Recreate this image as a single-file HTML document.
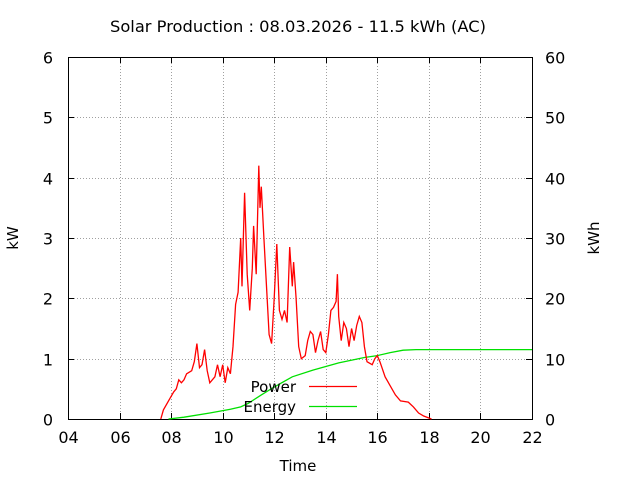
<!DOCTYPE html>
<html><head><meta charset="utf-8"><style>
html,body{margin:0;padding:0;background:#fff}
svg{display:block;font-family:"DejaVu Sans","Liberation Sans",sans-serif}
</style></head><body>
<svg id="s" width="640" height="480" xmlns="http://www.w3.org/2000/svg">
<rect width="640" height="480" fill="#fff"/>
<g id="grid" stroke="#a0a0a0" stroke-width="1" stroke-dasharray="1,2"></g>
<rect x="68.5" y="57.5" width="464" height="362" fill="none" stroke="#000"/>
<g id="ticks" stroke="#000"></g>
<g id="labels" font-size="16" fill="#000"></g>
<text x="298" y="32" font-size="16.3" text-anchor="middle">Solar Production : 08.03.2026 - 11.5 kWh (AC)</text>
<text x="298" y="471" font-size="15" text-anchor="middle">Time</text>
<text transform="translate(18,238) rotate(-90)" font-size="15" text-anchor="middle">kW</text>
<text transform="translate(599,238) rotate(-90)" font-size="15" text-anchor="middle">kWh</text>
<polyline id="en" fill="none" stroke="#00e000" stroke-width="1.3"/>
<polyline id="pw" fill="none" stroke="#ff0000" stroke-width="1.3"/>
<text x="296" y="392" font-size="15" text-anchor="end">Power</text>
<line x1="309" y1="386.5" x2="357" y2="386.5" stroke="#ff0000" stroke-width="1.3"/>
<text x="296" y="412" font-size="15" text-anchor="end">Energy</text>
<line x1="309" y1="406.5" x2="357" y2="406.5" stroke="#00e000" stroke-width="1.3"/>
</svg>
<script>
var NS="http://www.w3.org/2000/svg";
function X(t){return 68+(t-4)*464/18}
function Y(p){return 419-p*362/6}
function el(n,a,p,txt){var e=document.createElementNS(NS,n);for(var k in a)e.setAttribute(k,a[k]);if(txt!==undefined)e.textContent=txt;document.getElementById(p).appendChild(e);}
for(var h=4;h<=22;h+=2){var x=Math.round(X(h))+0.5;
 if(h>4&&h<22)el('line',{x1:x,y1:57,x2:x,y2:419},'grid');
 el('line',{x1:x,y1:419,x2:x,y2:413},'ticks');el('line',{x1:x,y1:57,x2:x,y2:63},'ticks');
 el('text',{x:x,y:443,'text-anchor':'middle'},'labels',(h<10?'0':'')+h);}
for(var v=0;v<=6;v++){var y=Math.round(Y(v))+0.5;
 if(v>0&&v<6)el('line',{x1:68,y1:y,x2:532,y2:y},'grid');
 el('line',{x1:68,y1:y,x2:74,y2:y},'ticks');el('line',{x1:532,y1:y,x2:526,y2:y},'ticks');
 el('text',{x:53,y:y+6,'text-anchor':'end'},'labels',v);
 el('text',{x:545,y:y+6},'labels',v*10);}
var P=[[7.6,0],[7.7,0.15],[7.9,0.3],[8.1,0.45],[8.2,0.5],[8.3,0.65],[8.4,0.6],[8.5,0.65],[8.6,0.75],[8.8,0.8],[8.9,0.95],[9.0,1.25],[9.1,0.85],[9.2,0.9],[9.3,1.15],[9.4,0.8],[9.5,0.6],[9.7,0.7],[9.8,0.9],[9.9,0.7],[10.0,0.9],[10.1,0.6],[10.2,0.85],[10.3,0.75],[10.4,1.2],[10.5,1.9],[10.6,2.1],[10.7,3.0],[10.75,2.2],[10.85,3.75],[10.95,2.4],[11.05,1.8],[11.15,2.5],[11.2,3.2],[11.3,2.4],[11.4,4.2],[11.45,3.5],[11.5,3.85],[11.6,3.0],[11.7,2.2],[11.8,1.4],[11.9,1.25],[12.0,2.0],[12.1,2.9],[12.2,1.8],[12.3,1.65],[12.4,1.8],[12.5,1.6],[12.6,2.85],[12.7,2.2],[12.75,2.6],[12.85,2.0],[12.95,1.2],[13.05,1.0],[13.2,1.05],[13.3,1.3],[13.4,1.45],[13.5,1.4],[13.6,1.1],[13.7,1.3],[13.8,1.45],[13.9,1.15],[14.0,1.1],[14.1,1.4],[14.2,1.8],[14.3,1.85],[14.4,1.95],[14.45,2.4],[14.5,1.7],[14.6,1.3],[14.7,1.6],[14.8,1.5],[14.9,1.2],[15.0,1.5],[15.1,1.3],[15.2,1.55],[15.3,1.7],[15.4,1.6],[15.5,1.2],[15.6,0.95],[15.8,0.9],[15.9,1.0],[16.0,1.05],[16.1,0.95],[16.3,0.7],[16.5,0.55],[16.7,0.4],[16.9,0.3],[17.2,0.28],[17.4,0.2],[17.6,0.1],[17.8,0.05],[18.1,0.0]];
document.getElementById('pw').setAttribute('points',P.map(function(p){return X(p[0]).toFixed(1)+','+Y(p[1]).toFixed(1)}).join(' '));
var E=[[7.9,0],[8.5,0.3],[9.5,1.0],[10.3,1.6],[10.7,2.0],[11.0,2.6],[11.5,4.0],[12.0,5.3],[12.7,7.0],[13.5,8.1],[14.5,9.3],[15.5,10.2],[16.0,10.5],[16.5,11.0],[17.0,11.4],[17.5,11.5],[22,11.5]];
document.getElementById('en').setAttribute('points',E.map(function(p){return X(p[0]).toFixed(1)+','+(419-p[1]*362/60).toFixed(1)}).join(' '));
</script>
</body></html>
